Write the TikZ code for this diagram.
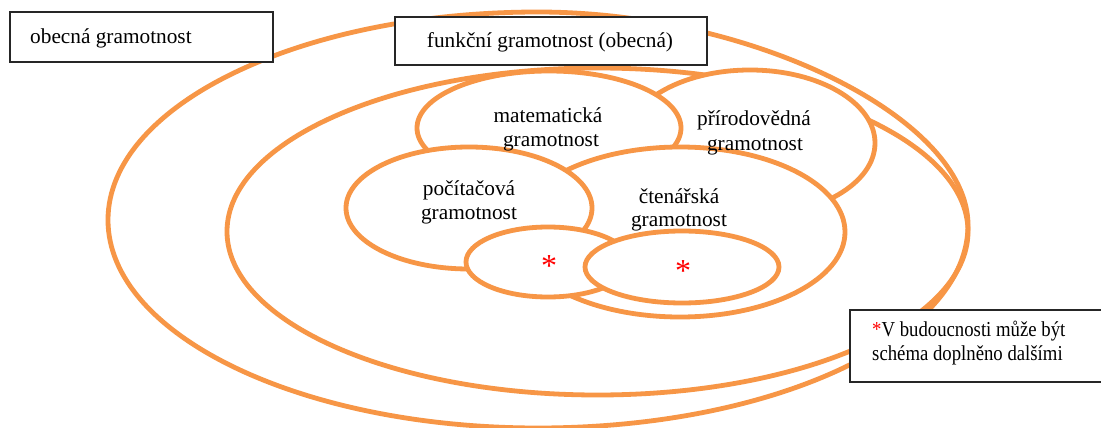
\documentclass[tikz,border=0pt]{standalone}
\usepackage{fontspec}
\setmainfont{Liberation Serif}
\newfontfamily\condfont[FakeStretch=0.88]{Liberation Serif}
\definecolor{og}{HTML}{F79646}
\begin{document}
\begin{tikzpicture}[x=1pt,y=-1pt,
  ring/.style={draw=og, line width=4.8pt},
  blob/.style={draw=og, line width=4.8pt, fill=white},
  box/.style={draw=black!85, line width=1.4pt, fill=white, inner sep=0pt, outer sep=0pt, anchor=north west},
  lbl/.style={font=\fontsize{21.3}{24}\selectfont, inner sep=0pt, anchor=base},
  note/.style={font=\condfont\fontsize{21.3}{24}\selectfont, inner sep=0pt, anchor=base west},
  star/.style={text=red, font=\fontsize{32}{32}\selectfont, inner sep=0pt, anchor=base}]
\useasboundingbox (0,0) rectangle (1101,428);
\fill[white] (0,0) rectangle (1101,428);
% big rings
\path[ring] (108,220) .. controls (108,105.1) and (300.5,12) .. (538,12)
  .. controls (753,12) and (968,118.5) .. (968,225)
  .. controls (968,337.1) and (775.5,428) .. (538,428)
  .. controls (300.5,428) and (108,334.9) .. cycle;
\path[ring] (597.5,231.5) ellipse [x radius=370.5pt, y radius=163.5pt];
% inner ellipses (stacked)
\path[blob] (750,143) ellipse [x radius=125pt, y radius=73pt];
\path[blob] (549,128) ellipse [x radius=132pt, y radius=57pt];
\path[blob] (680,232) ellipse [x radius=165pt, y radius=85pt];
\path[blob] (469,208) ellipse [x radius=123pt, y radius=61pt];
\path[blob] (548,262) ellipse [x radius=82pt, y radius=35pt];
\path[blob] (682,267) ellipse [x radius=97pt, y radius=36pt];
% labels
\node[lbl] (mat1) at (548,122) {matematická};
\node[lbl] (mat2) at (551,146) {gramotnost};
\node[lbl] (pri1) at (754,125) {přírodovědná};
\node[lbl] (pri2) at (755,150) {gramotnost};
\node[lbl] (poc1) at (469,195) {počítačová};
\node[lbl] (poc2) at (469,219) {gramotnost};
\node[lbl] (cte1) at (679,203) {čtenářská};
\node[lbl] (cte2) at (679,226) {gramotnost};
\node[star] (s1) at (549,276) {*};
\node[star] (s2) at (683,281) {*};
% boxes
\node[box, minimum width=263pt, minimum height=50pt] (obox) at (10,12) {};
\node[lbl, anchor=base west] (otxt) at (30,44) {obecná gramotnost};
\node[box, minimum width=312pt, minimum height=48pt] (fbox) at (395,17) {};
\node[lbl] (ftxt) at (550,48) {funkční gramotnost (obecná)};
\node[box, minimum width=262pt, minimum height=72pt] (nbox) at (850,310) {};
\node[note] (n1) at (872,336) {\textcolor{red}{*}V budoucnosti může být};
\node[note] (n2) at (872,360) {schéma doplněno dalšími};
\end{tikzpicture}
\end{document}
